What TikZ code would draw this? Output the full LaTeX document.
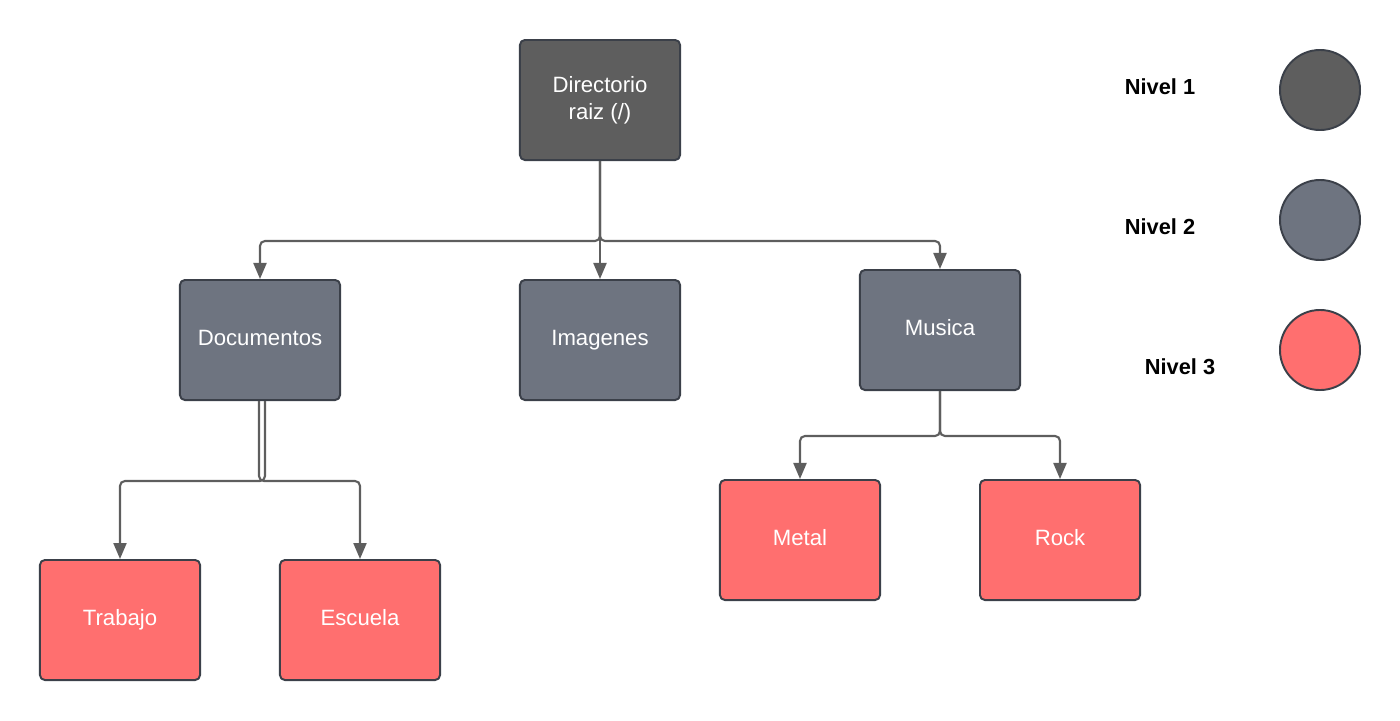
\documentclass[tikz,border=0pt]{standalone}
\usepackage{fontspec}
\setmainfont{Liberation Sans}
\usetikzlibrary{arrows.meta}
\definecolor{lvlone}{HTML}{5E5E5E}
\definecolor{lvltwo}{HTML}{6E7480}
\definecolor{lvlthree}{HTML}{FF6F6F}
\definecolor{edgecol}{HTML}{3B4049}
\definecolor{conncol}{HTML}{5E5E5E}
\tikzset{
  box/.style={draw=edgecol, line width=0.55pt, rounded corners=1.4pt, minimum width=1.6cm, minimum height=1.2cm, inner sep=0pt, text=white, align=center, font=\fontsize{6.3}{7.7}\selectfont},
  oneline/.style={text height=1.2ex, text depth=0.65ex},
  lone/.style={box, fill=lvlone},
  ltwo/.style={box, oneline, fill=lvltwo},
  lthree/.style={box, oneline, fill=lvlthree},
  dot/.style={circle, draw=edgecol, line width=0.55pt, minimum size=0.8cm, inner sep=0pt},
  lbl/.style={font=\bfseries\fontsize{6.2}{7.5}\selectfont, text=black},
  conn/.style={draw=conncol, line width=0.6pt, rounded corners=1.4pt, -{Triangle[length=1.6mm, width=1.3mm]}}
}
\begin{document}
\begin{tikzpicture}[x=0.01cm, y=0.01cm]
\useasboundingbox (0,0) rectangle (1400,720);
\node[lone] (root) at (600,620) {Directorio\\raiz (/)};
\node[ltwo] (doc) at (260,380) {Documentos};
\node[ltwo] (img) at (600,380) {Imagenes};
\node[ltwo] (mus) at (940,390) {Musica};
\node[lthree] (tra) at (120,100) {Trabajo};
\node[lthree] (esc) at (360,100) {Escuela};
\node[lthree] (met) at (800,180) {Metal};
\node[lthree] (roc) at (1060,180) {Rock};
\node[dot, fill=lvlone] (c1) at (1320,630) {};
\node[dot, fill=lvltwo] (c2) at (1320,500) {};
\node[dot, fill=lvlthree] (c3) at (1320,370) {};
\node[lbl] (n1) at (1160,633) {Nivel 1};
\node[lbl] (n2) at (1160,493) {Nivel 2};
\node[lbl] (n3) at (1180,353) {Nivel 3};
\draw[conn] (root.south) -- ++(0,-80) -| (doc.north);
\draw[conn] (root.south) -- (img.north);
\draw[conn] (root.south) -- ++(0,-80) -| (mus.north);
\draw[conn] ([xshift=0.5mm]doc.south) -- ++(0,-80) -| (tra.north);
\draw[conn] ([xshift=-0.1mm]doc.south) -- ++(0,-80) -| (esc.north);
\draw[conn] (mus.south) -- ++(0,-45) -| (met.north);
\draw[conn] (mus.south) -- ++(0,-45) -| (roc.north);
\end{tikzpicture}
\end{document}
